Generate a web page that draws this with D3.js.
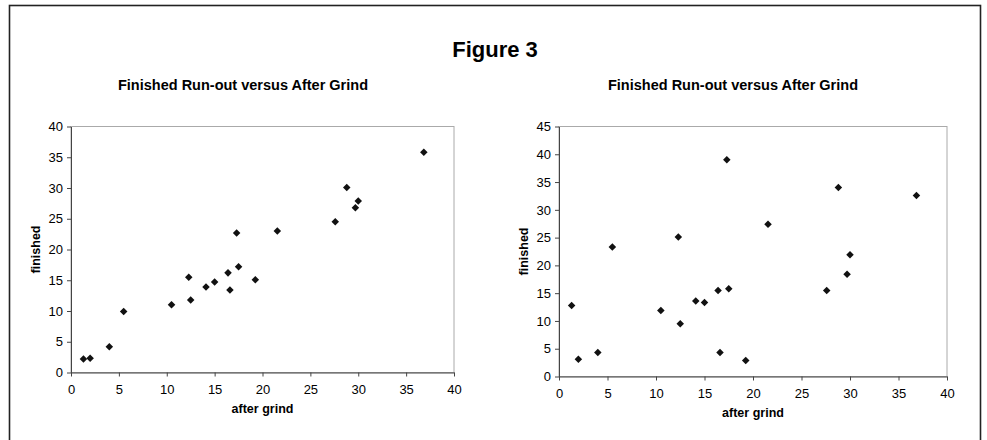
<!DOCTYPE html>
<html>
<head>
<meta charset="utf-8">
<script src="https://cdn.jsdelivr.net/npm/d3@7"></script>
<style>
  body { margin: 0; background: #fff; }
  svg { display: block; font-family: "Liberation Sans", Arial, sans-serif; }
</style>
</head>
<body>
<div id="chart"></div>
<script>
// data
const afterGrind = [1.3, 2.0, 4.0, 5.5, 10.5, 12.3, 12.5, 14.1, 15.0, 16.4,
                    16.6, 17.3, 17.5, 19.25, 21.55, 27.6, 28.8, 29.7, 30.0, 36.85];
const finishedA = [2.2, 2.3, 4.2, 9.9, 11.0, 15.5, 11.8, 13.9, 14.7, 16.2,
                   13.4, 22.7, 17.2, 15.1, 23.0, 24.5, 30.1, 26.8, 27.9, 35.8];
const finishedB = [12.8, 3.1, 4.3, 23.3, 11.9, 25.1, 9.5, 13.6, 13.3, 15.5,
                   4.3, 39.0, 15.8, 2.9, 27.4, 15.5, 34.0, 18.4, 21.9, 32.6];
const xTicks = [0, 5, 10, 15, 20, 25, 30, 35, 40];
const yTicksA = [0, 5, 10, 15, 20, 25, 30, 35, 40];
const yTicksB = [0, 5, 10, 15, 20, 25, 30, 35, 40, 45];

const width = 987, height = 440;

const svg = d3.select("#chart").append("svg")
    .attr("width", width)
    .attr("height", height);

// outer frame (bottom edge runs off the picture)
svg.append("rect")
    .attr("x", 9.5).attr("y", 5.5)
    .attr("width", 971).attr("height", 460)
    .attr("fill", "none")
    .attr("stroke", "#222")
    .attr("stroke-width", 1.6);

svg.append("text")
    .attr("x", 495).attr("y", 57)
    .attr("text-anchor", "middle")
    .attr("font-size", 22)
    .attr("font-weight", "bold")
    .text("Figure 3");

function drawPanel(opt) {
    const { left, right, top, bottom, yMax, yTicks, values, titleX } = opt;

    const x = d3.scaleLinear().domain([0, 40]).range([left, right]);
    const y = d3.scaleLinear().domain([0, yMax]).range([bottom, top]);

    const g = svg.append("g");

    // plot area border (light grey on top/right)
    g.append("rect")
        .attr("x", left).attr("y", top)
        .attr("width", right - left).attr("height", bottom - top)
        .attr("fill", "none")
        .attr("stroke", "#aaa")
        .attr("stroke-width", 1);

    const xAxis = g.append("g")
        .attr("transform", `translate(0,${bottom})`)
        .call(d3.axisBottom(x).tickValues(xTicks).tickSize(4).tickSizeOuter(0));

    const yAxis = g.append("g")
        .attr("transform", `translate(${left},0)`)
        .call(d3.axisLeft(y).tickValues(yTicks).tickSize(4).tickSizeOuter(0));

    [xAxis, yAxis].forEach(a => {
        a.select(".domain").attr("stroke", "#444");
        a.selectAll(".tick line").attr("stroke", "#444");
        a.selectAll(".tick text")
            .attr("fill", "#000")
            .attr("font-size", 13)
            .attr("font-family", "Liberation Sans, Arial, sans-serif");
    });
    xAxis.selectAll(".tick text").attr("dy", "1.1em");
    yAxis.selectAll(".tick text").attr("x", -8);

    // markers
    const diamond = d3.symbol().type(d3.symbolDiamond2).size(36);
    g.append("g")
        .selectAll("path")
        .data(afterGrind.map((d, i) => [d, values[i]]))
        .join("path")
        .attr("d", diamond)
        .attr("transform", d => `translate(${x(d[0])},${y(d[1])})`)
        .attr("fill", "#111");

    g.append("text")
        .attr("x", titleX).attr("y", 90)
        .attr("text-anchor", "middle")
        .attr("font-size", 14.5)
        .attr("font-weight", "bold")
        .text("Finished Run-out versus After Grind");

    g.append("text")
        .attr("x", (left + right) / 2).attr("y", bottom + 40)
        .attr("text-anchor", "middle")
        .attr("font-size", 12.5)
        .attr("font-weight", "bold")
        .text("after grind");

    g.append("text")
        .attr("transform", `translate(${left - 31},${(top + bottom) / 2}) rotate(-90)`)
        .attr("text-anchor", "middle")
        .attr("font-size", 12.5)
        .attr("font-weight", "bold")
        .text("finished");
}

drawPanel({ left: 71, right: 454, top: 126.5, bottom: 372.5, yMax: 40,
            yTicks: yTicksA, values: finishedA, titleX: 243 });
drawPanel({ left: 559, right: 947, top: 126.5, bottom: 376.5, yMax: 45,
            yTicks: yTicksB, values: finishedB, titleX: 733 });
</script>
</body>
</html>
